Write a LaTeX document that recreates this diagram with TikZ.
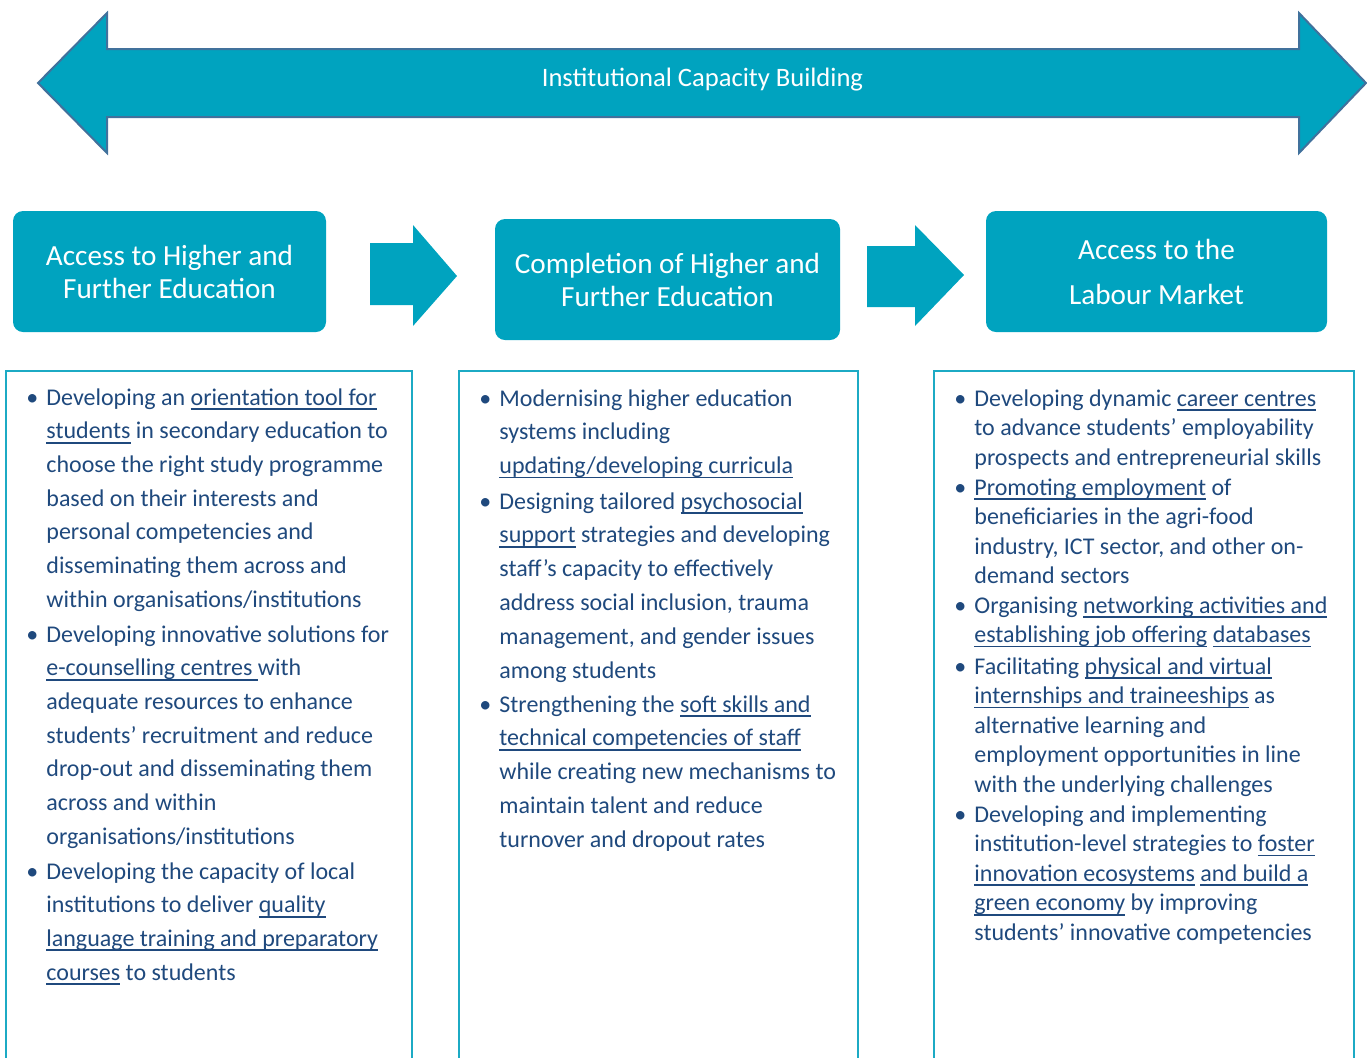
\documentclass[tikz,border=0pt]{standalone}
\usepackage{fontspec}
\setmainfont{Carlito}
\definecolor{teal1}{RGB}{0,163,191}
\definecolor{arrowline}{RGB}{65,113,156}
\definecolor{txtblue}{RGB}{31,73,125}
\definecolor{colline}{RGB}{28,170,196}
\newcommand\myul[1]{\setbox0\hbox{#1}\rlap{\color{txtblue}\rule[-2.4pt]{\wd0}{0.9pt}}\box0\relax}
\newcommand\bul{\llap{\makebox[10pt][l]{\textbullet}}}
\newcommand\lcol{\fontsize{12}{16.85}\selectfont}
\newcommand\mcol{\fontsize{12}{16.9}\selectfont}
\newcommand\rcol{\fontsize{12}{14.8}\selectfont}
\tikzset{
  hdr/.style={draw=none, fill=teal1, rounded corners=5pt, text=white, align=center,
     font=\fontsize{14.6}{16.5}\selectfont, minimum height=60.5pt, inner sep=0pt},
  bigarrow/.style={fill=teal1, draw=arrowline, line width=1pt, line join=miter},
  flowarrow/.style={fill=teal1, draw=none},
  colbox/.style={draw=colline, line width=1pt},
  item/.style={anchor=base west, inner sep=0pt, text=txtblue}
}
\begin{document}
\begin{tikzpicture}[x=0.5pt,y=-0.5pt]
\useasboundingbox (0,0) rectangle (1367,1057);
% top double arrow
\draw[bigarrow] (38,83) -- (107,13) -- (107,49) -- (1299,49) -- (1299,13) -- (1366,83)
  -- (1299,153) -- (1299,117) -- (107,117) -- (107,153) -- cycle;
\node[anchor=base, text=white, font=\fontsize{13.3}{15.6}\selectfont, inner sep=0pt] (top) at (702.5,86) {Institutional Capacity Building};
% headers
\node[hdr, minimum width=156.5pt] (h1) at (169.5,271.5) {Access to Higher and\\Further Education};
\node[hdr, minimum width=172.5pt] (h2) at (667.5,279.5) {Completion of Higher and\\Further Education};
\node[hdr, minimum width=170.5pt, font=\fontsize{14.6}{22.5}\selectfont] (h3) at (1156.5,271.5) {Access to the\\Labour Market};
% flow arrows
\fill[flowarrow] (370,243) -- (413,243) -- (413,225) -- (457,276) -- (413,326) -- (413,305) -- (370,305) -- cycle;
\fill[flowarrow] (867,246) -- (915,246) -- (915,225) -- (964,275) -- (915,326) -- (915,307) -- (867,307) -- cycle;
% column boxes
\draw[colbox] (6,1060) -- (6,371) -- (412,371) -- (412,1060);
\draw[colbox] (459,1060) -- (459,371) -- (858,371) -- (858,1060);
\draw[colbox] (934,1060) -- (934,371) -- (1354,371) -- (1354,1060);
% left column
\node[item, font=\lcol] (l1) at (46,405) {\begin{tabular}[t]{@{}l@{}}
\bul Developing an \myul{orientation tool for}\\
\myul{students} in secondary education to\\
choose the right study programme\\
based on their interests and\\
personal competencies and\\
disseminating them across and\\
within organisations/institutions
\end{tabular}};
\node[item, font=\lcol] (l2) at (46,642) {\begin{tabular}[t]{@{}l@{}}
\bul Developing innovative solutions for\\
\myul{e-counselling centres }with\\
adequate resources to enhance\\
students’ recruitment and reduce\\
drop-out and disseminating them\\
across and within\\
organisations/institutions
\end{tabular}};
\node[item, font=\lcol] (l3) at (46,879) {\begin{tabular}[t]{@{}l@{}}
\bul Developing the capacity of local\\
institutions to deliver \myul{quality}\\
\myul{language training and preparatory}\\
\myul{courses} to students
\end{tabular}};
% middle column
\node[item, font=\mcol] (m1) at (499,406) {\begin{tabular}[t]{@{}l@{}}
\bul Modernising higher education\\
systems including\\
\myul{updating/developing curricula}
\end{tabular}};
\node[item, font=\mcol] (m2) at (499,509) {\begin{tabular}[t]{@{}l@{}}
\bul Designing tailored \myul{psychosocial}\\
\myul{support} strategies and developing\\
staff’s capacity to effectively\\
address social inclusion, trauma\\
management, and gender issues\\
among students
\end{tabular}};
\node[item, font=\mcol] (m3) at (499,712) {\begin{tabular}[t]{@{}l@{}}
\bul Strengthening the \myul{soft skills and}\\
\myul{technical competencies of staff}\\
while creating new mechanisms to\\
maintain talent and reduce\\
turnover and dropout rates
\end{tabular}};
% right column
\node[item, font=\rcol] (r1) at (974,406) {\begin{tabular}[t]{@{}l@{}}
\bul Developing dynamic \myul{career centres}\\
to advance students’ employability\\
prospects and entrepreneurial skills
\end{tabular}};
\node[item, font=\rcol] (r2) at (974,495) {\begin{tabular}[t]{@{}l@{}}
\bul \myul{Promoting employment} of\\
beneficiaries in the agri-food\\
industry, ICT sector, and other on-\\
demand sectors
\end{tabular}};
\node[item, font=\rcol] (r3) at (974,613) {\begin{tabular}[t]{@{}l@{}}
\bul Organising \myul{networking activities and}\\
\myul{establishing job offering} \myul{databases}
\end{tabular}};
\node[item, font=\rcol] (r4) at (974,674) {\begin{tabular}[t]{@{}l@{}}
\bul Facilitating \myul{physical and virtual}\\
\myul{internships and traineeships} as\\
alternative learning and\\
employment opportunities in line\\
with the underlying challenges
\end{tabular}};
\node[item, font=\rcol] (r5) at (974,822) {\begin{tabular}[t]{@{}l@{}}
\bul Developing and implementing\\
institution-level strategies to \myul{foster}\\
\myul{innovation ecosystems} \myul{and build a}\\
\myul{green economy} by improving\\
students’ innovative competencies
\end{tabular}};
\end{tikzpicture}
\end{document}
